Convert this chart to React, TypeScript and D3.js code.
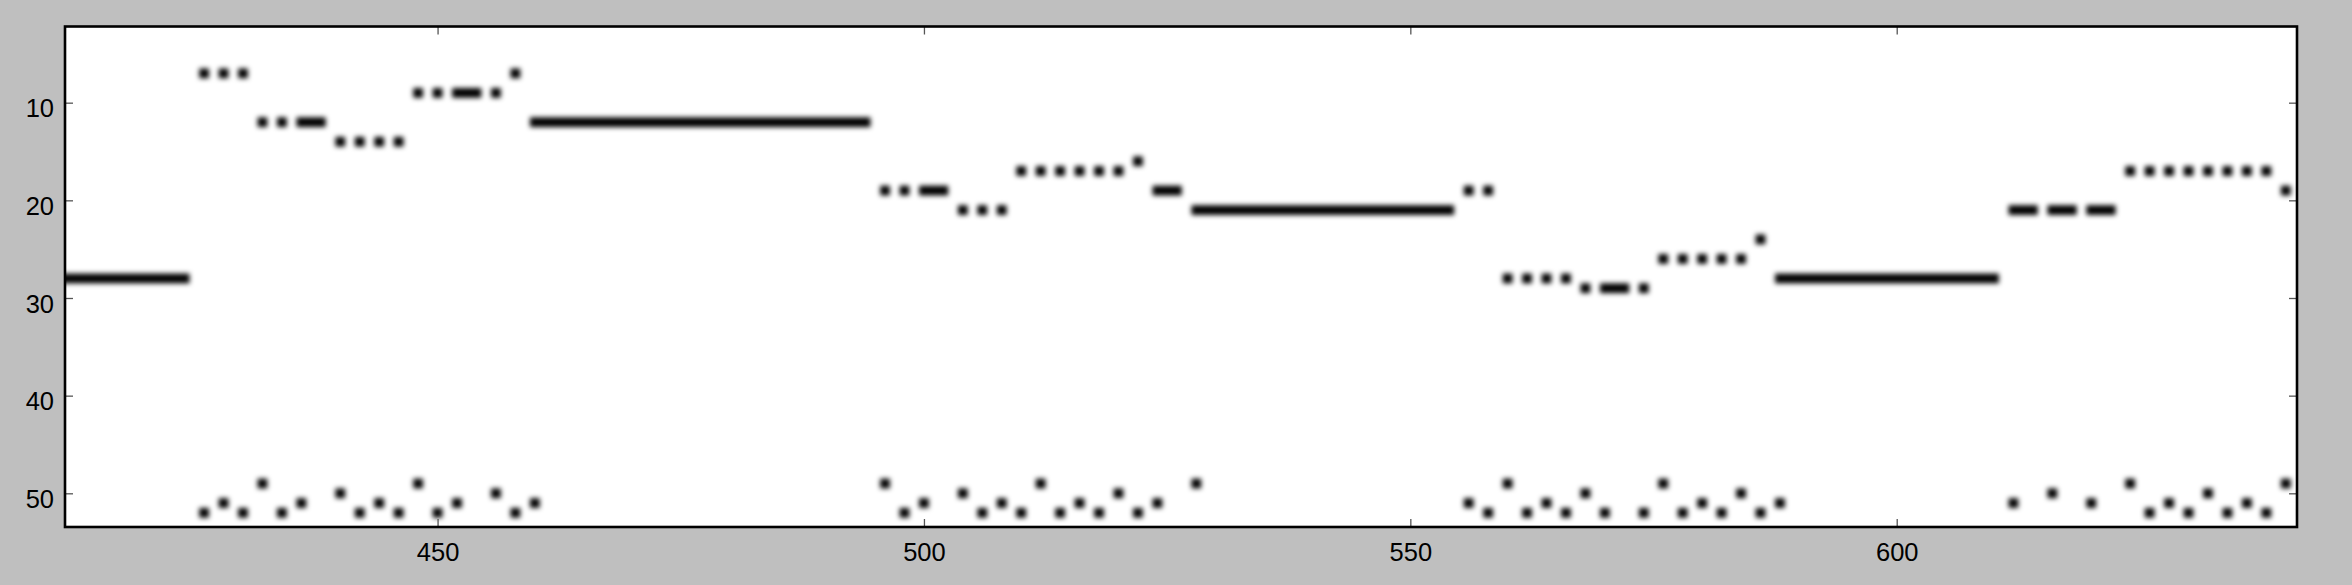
import React, { useEffect, useRef } from 'react';
import * as d3 from 'd3';

// melody: [first column, last column, row]
const melodyNotes: [number, number, number][] = [
  [400, 424, 28],
  [426, 426, 7], [428, 428, 7], [430, 430, 7],
  [432, 432, 12], [434, 434, 12], [436, 438, 12],
  [440, 440, 14], [442, 442, 14], [444, 444, 14], [446, 446, 14],
  [448, 448, 9], [450, 450, 9], [452, 454, 9], [456, 456, 9],
  [458, 458, 7],
  [460, 494, 12],
  [496, 496, 19], [498, 498, 19], [500, 502, 19],
  [504, 504, 21], [506, 506, 21], [508, 508, 21],
  [510, 510, 17], [512, 512, 17], [514, 514, 17], [516, 516, 17], [518, 518, 17], [520, 520, 17],
  [522, 522, 16],
  [524, 526, 19],
  [528, 554, 21],
  [556, 556, 19], [558, 558, 19],
  [560, 560, 28], [562, 562, 28], [564, 564, 28], [566, 566, 28],
  [568, 568, 29], [570, 572, 29], [574, 574, 29],
  [576, 576, 26], [578, 578, 26], [580, 580, 26], [582, 582, 26], [584, 584, 26],
  [586, 586, 24],
  [588, 610, 28],
  [612, 614, 21], [616, 618, 21], [620, 622, 21],
  [624, 624, 17], [626, 626, 17], [628, 628, 17], [630, 630, 17],
  [632, 632, 17], [634, 634, 17], [636, 636, 17], [638, 638, 17],
  [640, 640, 19], [642, 642, 19],
];

// bass: [column, row]
const bassNotes: [number, number][] = [
  [426, 52], [428, 51], [430, 52], [432, 49], [434, 52], [436, 51], [440, 50], [442, 52],
  [444, 51], [446, 52], [448, 49], [450, 52], [452, 51], [456, 50], [458, 52], [460, 51],
  [496, 49], [498, 52], [500, 51], [504, 50], [506, 52], [508, 51], [510, 52], [512, 49],
  [514, 52], [516, 51], [518, 52], [520, 50], [522, 52], [524, 51], [528, 49],
  [556, 51], [558, 52], [560, 49], [562, 52], [564, 51], [566, 52], [568, 50], [570, 52],
  [574, 52], [576, 49], [578, 52], [580, 51], [582, 52], [584, 50], [586, 52], [588, 51],
  [612, 51], [616, 50], [620, 51], [624, 49], [626, 52], [628, 51], [630, 52], [632, 50],
  [634, 52], [636, 51], [638, 52], [640, 49], [642, 52],
];

const xTicks = [450, 500, 550, 600];
const yTicks = [10, 20, 30, 40, 50];

const W = 2352;
const H = 585;
const margin = { top: 26.5, left: 65, right: 55, bottom: 58 };

export default function App() {
  const ref = useRef<SVGSVGElement>(null);

  useEffect(() => {
    const svg = d3.select(ref.current);
    svg.selectAll('*').remove();

    const iw = W - margin.left - margin.right;
    const ih = H - margin.top - margin.bottom;

    const x = d3.scaleLinear().domain([411.7, 641.15]).range([0, iw]);
    const y = d3.scaleLinear().domain([2.2, 53.45]).range([0, ih]);

    svg.append('rect').attr('width', W).attr('height', H).attr('fill', '#bfbfbf');

    const defs = svg.append('defs');
    defs.append('clipPath').attr('id', 'plotClip')
      .append('rect').attr('width', iw).attr('height', ih);
    defs.append('filter').attr('id', 'soft')
      .attr('filterUnits', 'userSpaceOnUse')
      .attr('x', -60).attr('y', -60).attr('width', iw + 120).attr('height', ih + 120)
      .append('feGaussianBlur').attr('stdDeviation', 2.6);

    const g = svg.append('g').attr('transform', `translate(${margin.left},${margin.top})`);
    g.append('rect').attr('width', iw).attr('height', ih).attr('fill', '#fff');

    const cells = g.append('g').attr('clip-path', 'url(#plotClip)')
      .append('g').attr('filter', 'url(#soft)');

    const allNotes: [number, number, number][] = [
      ...melodyNotes,
      ...bassNotes.map(([c, r]) => [c, c, r] as [number, number, number]),
    ];

    cells.selectAll('rect').data(allNotes).enter().append('rect')
      .attr('x', (d) => x(d[0] - 0.5))
      .attr('width', (d) => x(d[1] + 0.5) - x(d[0] - 0.5))
      .attr('y', (d) => y(d[2] - 0.5))
      .attr('height', (d) => y(d[2] + 0.5) - y(d[2] - 0.5))
      .attr('fill', '#000');

    const font = "'Liberation Sans', Arial, sans-serif";

    // axes, ticks pointing inwards
    const bottom = g.append('g').attr('transform', `translate(0,${ih})`)
      .call(d3.axisBottom(x).tickValues(xTicks).tickSizeInner(-8).tickSizeOuter(0).tickPadding(16));
    const top = g.append('g')
      .call(d3.axisTop(x).tickValues(xTicks).tickSizeInner(-8).tickSizeOuter(0).tickFormat(() => ''));
    const left = g.append('g')
      .call(d3.axisLeft(y).tickValues(yTicks).tickSizeInner(-8).tickSizeOuter(0).tickPadding(11));
    const right = g.append('g').attr('transform', `translate(${iw},0)`)
      .call(d3.axisRight(y).tickValues(yTicks).tickSizeInner(-8).tickSizeOuter(0).tickFormat(() => ''));

    [bottom, top, left, right].forEach((a) => {
      a.select('.domain').remove();
      a.selectAll('line').attr('stroke', '#555').attr('stroke-width', 1.3);
      a.selectAll('text').attr('font-family', font).attr('font-size', 25.5).attr('fill', '#000');
    });
    left.selectAll('text').attr('dy', '0.55em');

    g.append('rect').attr('width', iw).attr('height', ih)
      .attr('fill', 'none').attr('stroke', '#000').attr('stroke-width', 2.6);
  }, []);

  return (
    <svg ref={ref} width={W} height={H}
      style={{ position: 'absolute', left: 0, top: 0, display: 'block' }} />
  );
}
